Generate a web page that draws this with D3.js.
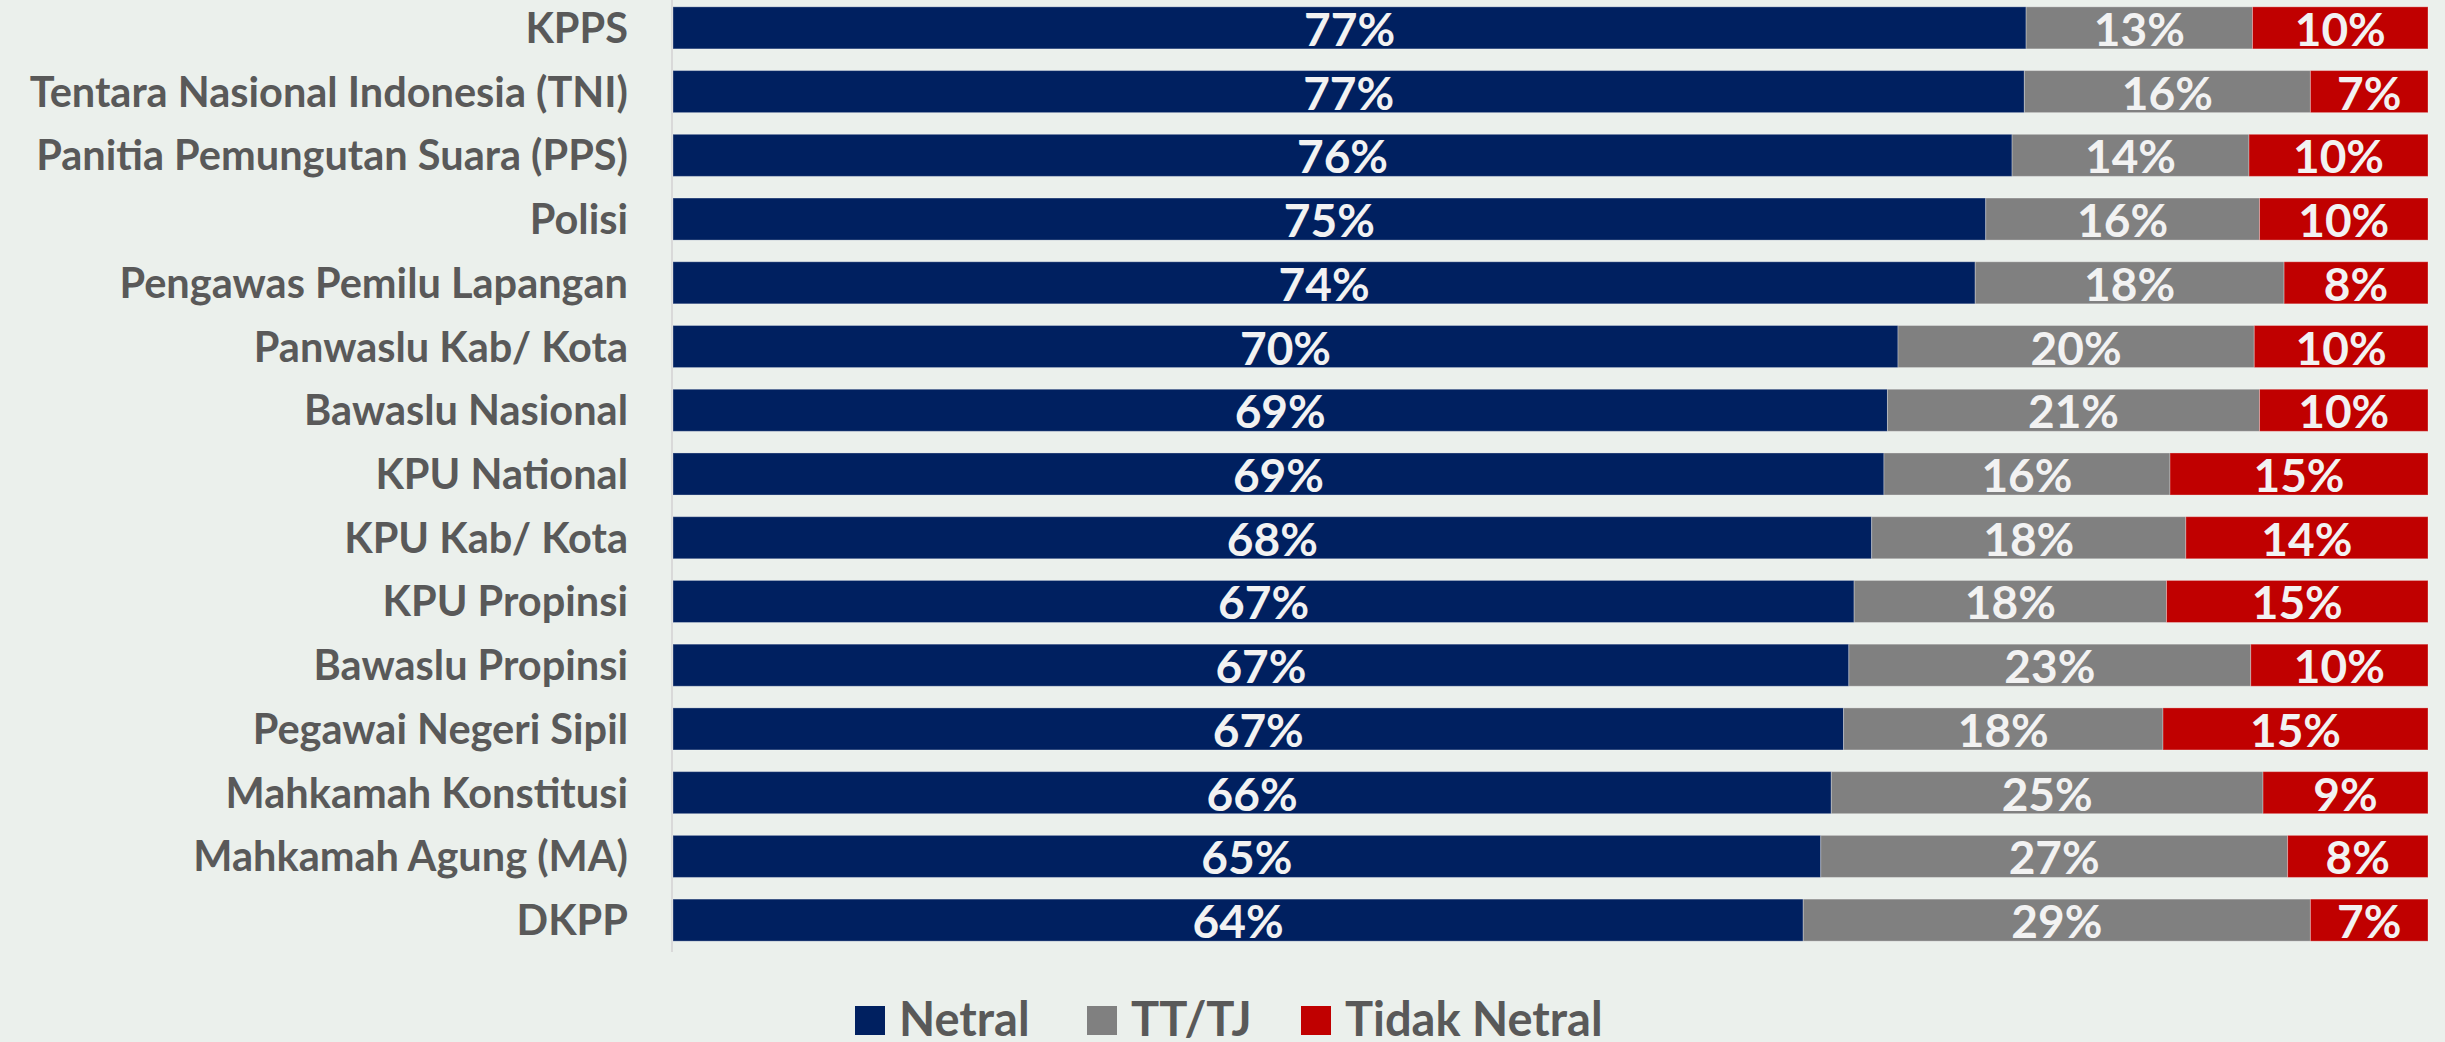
<!DOCTYPE html>
<html>
<head>
<meta charset="utf-8">
<script src="https://cdn.jsdelivr.net/npm/d3@7"></script>
<style>
  html, body { margin: 0; padding: 0; background: #ebf0ec; }
  svg { display: block; }
  text { font-family: Lato, "Open Sans", sans-serif; font-weight: 700; }
</style>
</head>
<body>
<div class="chart"></div>
<script>
// categories, top to bottom
var categories = [
	"KPPS", "Tentara Nasional Indonesia (TNI)", "Panitia Pemungutan Suara (PPS)",
	"Polisi", "Pengawas Pemilu Lapangan", "Panwaslu Kab/ Kota", "Bawaslu Nasional",
	"KPU National", "KPU Kab/ Kota", "KPU Propinsi", "Bawaslu Propinsi",
	"Pegawai Negeri Sipil", "Mahkamah Konstitusi", "Mahkamah Agung (MA)", "DKPP"
];

// series values (percent)
var netral      = [77.1, 77.0, 76.3, 74.8, 74.2, 69.8, 69.2, 69.0, 68.3, 67.3, 67.0, 66.7, 66.0, 65.4, 64.4];
var ttTj        = [12.9, 16.3, 13.5, 15.6, 17.6, 20.3, 21.2, 16.3, 17.9, 17.8, 22.9, 18.2, 24.6, 26.6, 28.9];
var tidakNetral = [10.0,  6.7, 10.2,  9.6,  8.2,  9.9,  9.6, 14.7, 13.8, 14.9, 10.1, 15.1,  9.4,  8.0,  6.7];

var seriesNames = ["Netral", "TT/TJ", "Tidak Netral"];
var seriesKeys = ["netral", "ttTj", "tidakNetral"];
var colors = ["#002060", "#808080", "#c00000"];

var width = 2445, height = 1042;

var svg = d3.select(".chart").append("svg")
	.attr("width", width)
	.attr("height", height);

// build rows for the stack
var rows = categories.map(function (c, i) {
	return { name: c, netral: netral[i], ttTj: ttTj[i], tidakNetral: tidakNetral[i] };
});

var stack = d3.stack().keys(seriesKeys);
var layers = stack(rows);

var x = d3.scaleLinear().domain([0, 100]).range([673, 2428]);
var y = d3.scaleBand().domain(categories).range([-4, 952])
	.paddingInner(0.34).paddingOuter(0.17);

// vertical axis line
svg.append("line")
	.attr("x1", 672).attr("x2", 672)
	.attr("y1", y.range()[0]).attr("y2", y.range()[1])
	.attr("stroke", "#d9d9d9")
	.attr("stroke-width", 2);

// bars
var layer = svg.append("g").selectAll("g")
	.data(layers)
	.enter().append("g")
	.attr("fill", function (d, i) { return colors[i]; });

layer.selectAll("rect")
	.data(function (d) { return d; })
	.enter().append("rect")
	.attr("x", function (d) { return x(d[0]); })
	.attr("y", function (d) { return y(d.data.name); })
	.attr("width", function (d) { return x(d[1]) - x(d[0]); })
	.attr("height", y.bandwidth())
	.attr("stroke", "#ffffff")
	.attr("stroke-opacity", 0.3)
	.attr("stroke-width", 1);

// value labels
layer.selectAll("text")
	.data(function (d) { return d; })
	.enter().append("text")
	.attr("x", function (d) { return (x(d[0]) + x(d[1])) / 2; })
	.attr("y", function (d) { return y(d.data.name) + y.bandwidth() / 2 + 18; })
	.attr("text-anchor", "middle")
	.attr("fill", "#f2f2f2")
	.style("font-size", "46px")
	.text(function (d) { return Math.round(d[1] - d[0]) + "%"; });

// category labels
svg.append("g").selectAll("text")
	.data(categories)
	.enter().append("text")
	.attr("x", 628)
	.attr("y", function (d) { return y(d) + y.bandwidth() / 2 + 15; })
	.attr("text-anchor", "end")
	.attr("fill", "#595959")
	.style("font-size", "41.5px")
	.text(function (d) { return d; });

// legend
var legendX = [855, 1087, 1301];
var legend = svg.append("g").selectAll("g")
	.data(seriesNames)
	.enter().append("g")
	.attr("transform", function (d, i) { return "translate(" + legendX[i] + ",1006)"; });

legend.append("rect")
	.attr("width", 30)
	.attr("height", 29)
	.attr("fill", function (d, i) { return colors[i]; });

legend.append("text")
	.attr("x", 44)
	.attr("y", 30)
	.attr("fill", "#595959")
	.style("font-size", "47px")
	.text(function (d) { return d; });
</script>
</body>
</html>
